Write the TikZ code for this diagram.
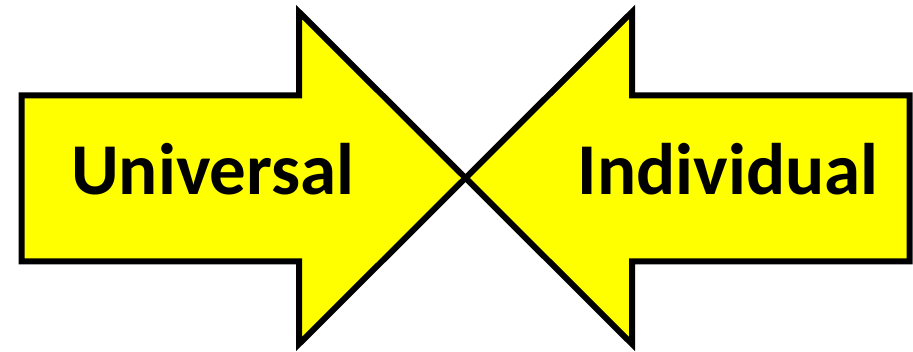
\documentclass[tikz,border=0pt]{standalone}
\usepackage{fontspec}
\setmainfont{Carlito}
\definecolor{pureyellow}{RGB}{255,255,0}
\begin{document}
\begin{tikzpicture}[x=1pt,y=1pt,
  arrowshape/.style={fill=pureyellow,draw=black,line width=6pt,line join=miter},
  label/.style={font=\fontsize{73}{86}\selectfont\bfseries,inner sep=0pt,anchor=base}]
\useasboundingbox (0,0) rectangle (913,351);
\draw[arrowshape] (21.5,255.5) -- (299,255.5) -- (299,339) -- (465.5,173) -- (299,7) -- (299,89.5) -- (21.5,89.5) -- cycle;
\draw[arrowshape] (909.5,255.5) -- (632,255.5) -- (632,339) -- (465.5,173) -- (632,7) -- (632,89.5) -- (909.5,89.5) -- cycle;
\node[label] (uni) at (213,156) {Universal};
\node[label] (ind) at (728,156) {Individual};
\end{tikzpicture}
\end{document}
